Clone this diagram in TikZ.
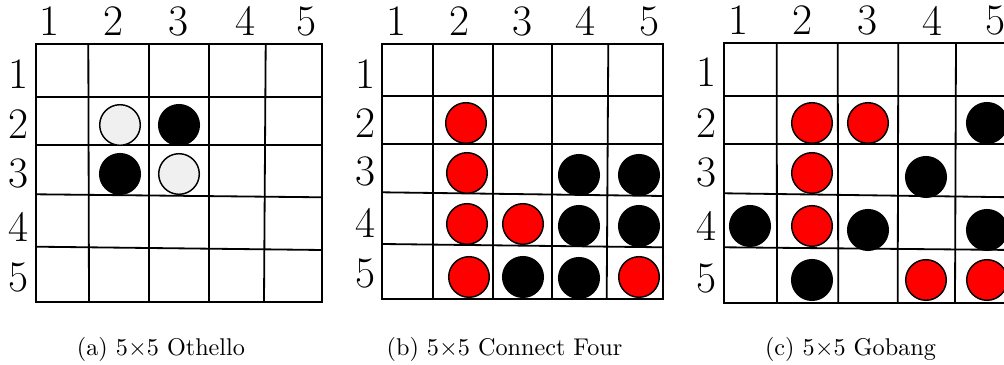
\documentclass[tikz,border=0pt]{standalone}
\usepackage{tikz}
\definecolor{stoneW}{RGB}{240,240,240}
\definecolor{stoneR}{RGB}{255,0,0}

\begin{document}
\begin{tikzpicture}[
  x=0.4132pt, y=-0.4132pt,
  grid/.style={line width=0.75pt},
  num/.style={font=\fontsize{18}{20}\selectfont, inner sep=0pt},
  subcap/.style={font=\normalsize, anchor=base, inner sep=0pt},
  stone/.style={fill=#1, draw=black, line width=0.6pt}
]
\useasboundingbox (0,0) rectangle (1004,365);
\clip (0,0) rectangle (1004,365);
\def\rad{20.3}
% (a) Othello board
\draw[grid] (36,44) rectangle (322,302);
\foreach \t/\b in {88.3/89,148.7/148.7,209/209,265.7/264}
  \draw[grid] (\t,44) -- (\b,302);
\foreach \l/\r in {96.7/96.7,145/145,194.3/197.3,246.7/250}
  \draw[grid] (36,\l) -- (322,\r);
\foreach \n/\x in {1/49.3,2/113.3,3/178.3,4/245,5/306}
  \node[num] (a-col\n) at (\x,21) {\n};
\foreach \n/\y in {1/74,2/124,3/173,4/227,5/277}
  \node[num] (a-row\n) at (18,\y) {\n};
\foreach \x/\y in {120/125,179/174}
  \draw[stone=stoneW] (\x,\y) circle[radius=\rad];
\foreach \x/\y in {179/125,120/174}
  \draw[stone=black] (\x,\y) circle[radius=\rad];
\node[subcap] (cap-a) at (161,356) {(a) 5$\times$5 Othello};

% (b) Connect Four board
\draw[grid] (381.7,44.3) rectangle (663.3,299);
\foreach \t/\b in {433.3/433.3,493.3/493.3,552.3/552.3,608.3/606.7}
  \draw[grid] (\t,44.3) -- (\b,299);
\foreach \l/\r in {96/96,144.3/144.3,192.3/196,244/247.3}
  \draw[grid] (381.7,\l) -- (663.3,\r);
\foreach \n/\x in {1/396,2/459,3/522.7,4/585.7,5/649.3}
  \node[num] (b-col\n) at (\x,21) {\n};
\foreach \n/\y in {1/74,2/122.7,3/171.7,4/222.7,5/273}
  \node[num] (b-row\n) at (365,\y) {\n};
\foreach \x/\y in {466/123,467/173,467/224,523/224,469/277,639/277}
  \draw[stone=stoneR] (\x,\y) circle[radius=\rad];
\foreach \x/\y in {579/175,639/175,579/226,639/226,523/277,579/278}
  \draw[stone=black] (\x,\y) circle[radius=\rad];
\node[subcap] (cap-b) at (504.5,356) {(b) 5$\times$5 Connect Four};

% (c) Gobang board, cut off at the right
\draw[grid] (724.3,42.7) rectangle (1014,302.7);
\foreach \t/\b in {776.7/777,837.7/838.3,898.3/897.7,956/955}
  \draw[grid] (\t,42.7) -- (\b,302.7);
\foreach \l/\r in {95.7/95.7,144.3/144.3,193.3/197.3,247.3/250}
  \draw[grid] (724.3,\l) -- (1014,\r);
\foreach \n/\x in {1/738.3,2/802.7,3/867.7,4/932.3,5/995}
  \node[num] (c-col\n) at (\x,20.5) {\n};
\foreach \n/\y in {1/71.7,2/122.7,3/172.7,4/226,5/278}
  \node[num] (c-row\n) at (706.7,\y) {\n};
\foreach \x/\y in {812/123,868/123,812/173,812/226,926/280,987/280}
  \draw[stone=stoneR] (\x,\y) circle[radius=\rad];
\foreach \x/\y in {987/123,926/177,750/226,868/230,987/230,812/280}
  \draw[stone=black] (\x,\y) circle[radius=\rad];
\node[subcap] (cap-c) at (850.5,356) {(c) 5$\times$5 Gobang};
\end{tikzpicture}
\end{document}
